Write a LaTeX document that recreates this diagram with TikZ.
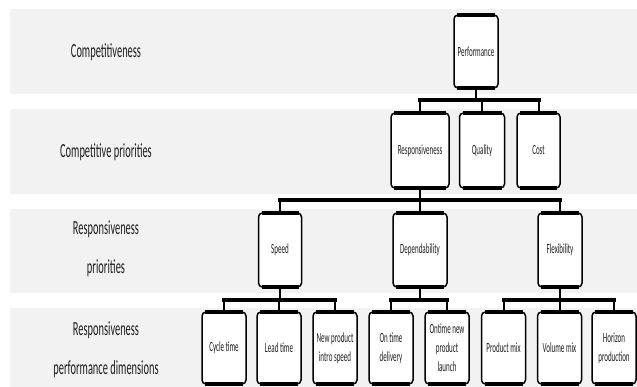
\documentclass[tikz,border=0pt]{standalone}
\usepackage{fontspec}
\newfontfamily\boxfam{Carlito}[FakeStretch=0.5]
\newfontfamily\labfam{Carlito}[FakeStretch=0.52]
\newcommand\boxfnt{\boxfam\fontsize{14}{19}\selectfont}
\newcommand\labfnt{\labfam\fontsize{20}{39}\selectfont}
\definecolor{bandgray}{HTML}{F2F2F2}
\definecolor{txtgray}{HTML}{1E1E1E}
\tikzset{
  band/.style={fill=bandgray, draw=none, rounded corners=2pt},
  boxnode/.style={draw=black, fill=white, line width=1.5pt, rounded corners=4pt,
    inner sep=0pt, outer sep=0pt, align=center, font=\boxfnt, text=txtgray},
  toprow/.style={boxnode, minimum height=73pt},
  midrow/.style={boxnode, minimum height=75pt},
  lowrow/.style={boxnode, minimum height=72pt, minimum width=44pt},
  busline/.style={line width=4pt, line cap=rect},
  dropline/.style={line width=2pt},
  edgeline/.style={line width=3.5pt},
  lab/.style={font=\labfnt, align=center, text=txtgray, inner sep=0pt}
}
\begin{document}
\begin{tikzpicture}[x=1pt,y=-1pt]
\useasboundingbox (0,0) rectangle (637,386);
\clip (0,0) rectangle (637,386);
% bands
\fill[band] (10,9) rectangle (645,94);
\fill[band] (10,109) rectangle (645,194);
\fill[band] (10,209) rectangle (645,293);
\fill[band] (10,308) rectangle (645,396);
% left labels
\node[lab] (l1) at (106,52) {Competitiveness};
\node[lab] (l2) at (106,152) {Competitive priorities};
\node[lab] (l3) at (106,249) {Responsiveness\\priorities};
\node[lab] (l4) at (106,350) {Responsiveness\\performance dimensions};
% bus levels
\coordinate (y1) at (0,100);
\coordinate (y2) at (0,200);
\coordinate (y3) at (0,300);
% boxes
\node[toprow, minimum width=44pt] (perf) at (476,51.5) {Performance};
\node[midrow, minimum width=58pt] (resp) at (420,150.5) {Responsiveness};
\node[midrow, minimum width=45pt] (qual) at (482,150.5) {Quality};
\node[midrow, minimum width=43pt] (cost) at (538.5,150.5) {Cost};
\node[midrow, minimum width=43pt, minimum height=74pt] (speed) at (280,250) {Speed};
\node[midrow, minimum width=54pt, minimum height=74pt] (dep) at (420,250) {Dependability};
\node[midrow, minimum width=44pt, minimum height=74pt] (flex) at (560,250) {Flexibility};
\node[lowrow] (cyc) at (224,348) {Cycle time};
\node[lowrow] (lead) at (279,348) {Lead time};
\node[lowrow] (newp) at (335,348) {New product\\intro speed};
\node[lowrow] (otd) at (391,348) {On time\\delivery};
\node[lowrow] (otn) at (447,348) {Ontime new\\product\\launch};
\node[lowrow] (pmix) at (503.5,348) {Product mix};
\node[lowrow] (vmix) at (559.5,348) {Volume mix};
\node[lowrow] (hor) at (614,348) {Horizon\\production};
% thick top and bottom edges
\foreach \n in {perf,resp,qual,cost,speed,dep,flex,cyc,lead,newp,otd,otn,pmix,vmix,hor}{
  \draw[edgeline] ([xshift=3pt]\n.north west) -- ([xshift=-3pt]\n.north east);
  \draw[edgeline] ([xshift=3pt]\n.south west) -- ([xshift=-3pt]\n.south east);
}
% level 1
\draw[dropline] (perf.south) -- (perf |- y1);
\draw[busline] (resp |- y1) -- (cost |- y1);
\foreach \c in {resp,qual,cost}{\draw[dropline] (\c |- y1) -- (\c.north);}
% level 2
\draw[dropline] (resp.south) -- (resp |- y2);
\draw[busline] (speed |- y2) -- (flex |- y2);
\foreach \c in {speed,dep,flex}{\draw[dropline] (\c |- y2) -- (\c.north);}
% level 3
\draw[dropline] (speed.south) -- (speed |- y3);
\draw[busline] (cyc |- y3) -- (newp |- y3);
\foreach \c in {cyc,lead,newp}{\draw[dropline] (\c |- y3) -- (\c.north);}
\draw[dropline] (dep.south) -- (dep |- y3);
\draw[busline] (otd |- y3) -- (otn |- y3);
\foreach \c in {otd,otn}{\draw[dropline] (\c |- y3) -- (\c.north);}
\draw[dropline] (flex.south) -- (flex |- y3);
\draw[busline] (pmix |- y3) -- (hor |- y3);
\foreach \c in {pmix,vmix,hor}{\draw[dropline] (\c |- y3) -- (\c.north);}
\end{tikzpicture}
\end{document}
